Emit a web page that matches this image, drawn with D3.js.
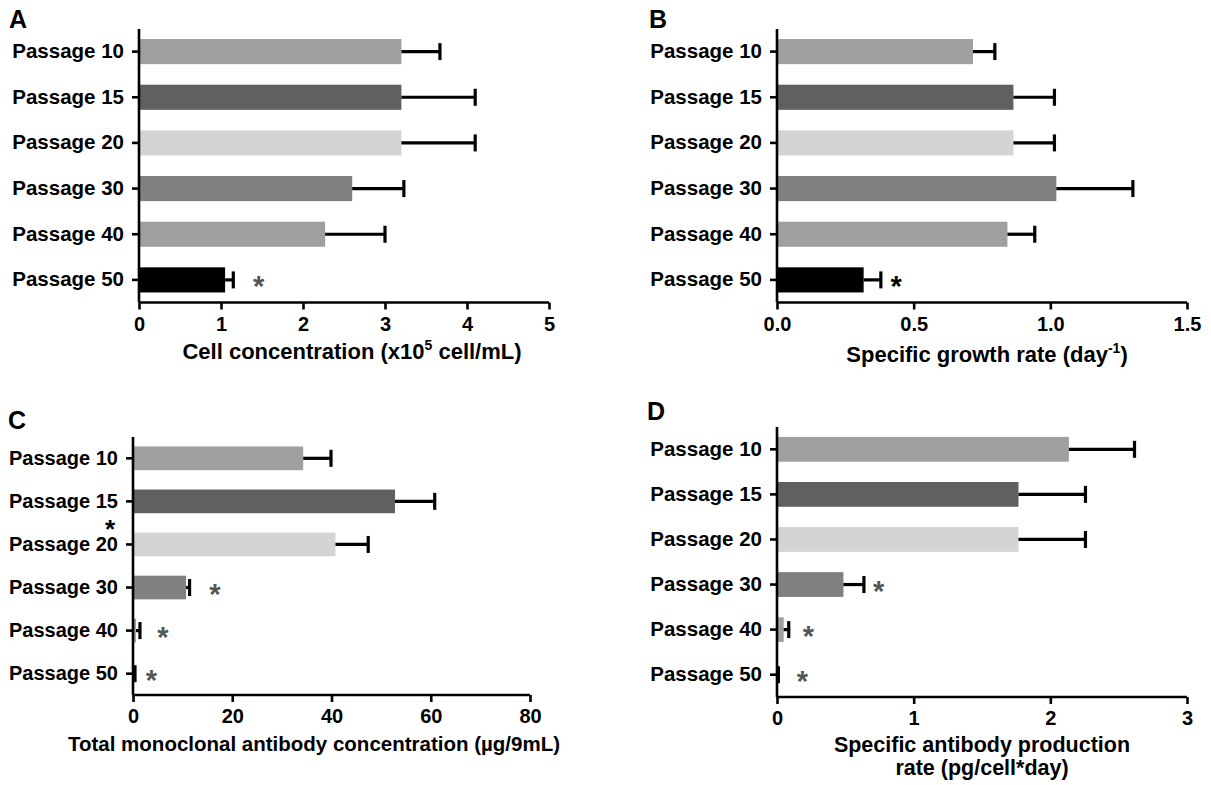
<!DOCTYPE html>
<html>
<head>
<meta charset="utf-8">
<script src="https://cdn.jsdelivr.net/npm/d3@7"></script>
<style>
  body { margin: 0; background: #fff; }
  svg text { font-family: "Liberation Sans", Arial, sans-serif; font-weight: bold; }
</style>
</head>
<body>
<div id="chart"></div>
<script>
// categories (same for all four panels)
var passages = ["Passage 10", "Passage 15", "Passage 20", "Passage 30", "Passage 40", "Passage 50"];
var barColors = ["#a0a0a0", "#606060", "#d4d4d4", "#808080", "#a0a0a0", "#000000"];

// A - cell concentration (x10^5 cell/mL), mean and SD
var cellConc = [3.2, 3.2, 3.2, 2.6, 2.27, 1.05];
var cellConcSd = [0.47, 0.9, 0.9, 0.63, 0.73, 0.1];
var cellTicks = [0, 1, 2, 3, 4, 5];

// B - specific growth rate (day-1)
var growth = [0.717, 0.865, 0.865, 1.022, 0.843, 0.317];
var growthSd = [0.08, 0.15, 0.15, 0.28, 0.1, 0.063];
var growthTicks = [0, 0.5, 1.0, 1.5];

// C - total mAb concentration (ug/9mL)
var mab = [34.3, 52.8, 40.8, 10.7, 0.6, 0.2];
var mabSd = [5.6, 8.0, 6.6, 0.7, 0.8, 0.2];
var mabTicks = [0, 20, 40, 60, 80];

// D - specific antibody production rate (pg/cell*day)
var qp = [2.136, 1.767, 1.767, 0.486, 0.049, 0.005];
var qpSd = [0.48, 0.49, 0.49, 0.15, 0.037, 0.005];
var qpTicks = [0, 1, 2, 3];

// significance marks: [category, x value]
var starsA = [["Passage 50", 1.46]];
var starsB = [["Passage 50", 0.436]];
var starsC = [["Passage 30", 16.5], ["Passage 40", 6.0], ["Passage 50", 3.7]];
var starsD = [["Passage 30", 0.744], ["Passage 40", 0.229], ["Passage 50", 0.186]];

var svg = d3.select("#chart")
    .append("svg")
    .attr("width", 1211)
    .attr("height", 785);

function drawPanel(p) {
    var g = svg.append("g");

    var x = d3.scaleLinear()
        .domain([0, p.ticks[p.ticks.length - 1]])
        .range([p.left, p.right]);

    var y = d3.scaleBand()
        .domain(passages)
        .range([p.top, p.bottom])
        .paddingInner(0.45)
        .paddingOuter(0.22);

    // bars
    g.append("g")
        .selectAll("rect")
        .data(p.values)
        .enter()
        .append("rect")
        .attr("x", x(0))
        .attr("y", (d, i) => y(passages[i]))
        .attr("width", d => x(d) - x(0))
        .attr("height", y.bandwidth())
        .style("fill", (d, i) => barColors[i]);

    // error bars
    var err = g.append("g")
        .selectAll("g")
        .data(p.values)
        .enter()
        .append("g");
    err.append("line")
        .attr("x1", d => x(d))
        .attr("x2", (d, i) => x(d + p.sd[i]))
        .attr("y1", (d, i) => y(passages[i]) + y.bandwidth() / 2)
        .attr("y2", (d, i) => y(passages[i]) + y.bandwidth() / 2)
        .style("stroke", "#000")
        .style("stroke-width", 3.2);
    err.append("line")
        .attr("x1", (d, i) => x(d + p.sd[i]))
        .attr("x2", (d, i) => x(d + p.sd[i]))
        .attr("y1", (d, i) => y(passages[i]) + y.bandwidth() / 2 - 8.5)
        .attr("y2", (d, i) => y(passages[i]) + y.bandwidth() / 2 + 8.5)
        .style("stroke", "#000")
        .style("stroke-width", 3.2);

    // axes
    var xAxis = g.append("g")
        .attr("transform", "translate(0," + p.bottom + ")")
        .call(d3.axisBottom(x).tickValues(p.ticks).tickFormat(d3.format(p.fmt))
            .tickSizeOuter(0).tickSize(7).tickPadding(7));
    var yAxis = g.append("g")
        .attr("transform", "translate(" + p.left + ",0)")
        .call(d3.axisLeft(y).tickSizeOuter(0).tickSize(7).tickPadding(8));

    // stretch the axis lines to the panel edges
    yAxis.select(".domain").attr("d", "M0," + (p.top) + "V" + p.bottom);
    xAxis.select(".domain").attr("d", "M" + p.left + ",0H" + p.right);

    [xAxis, yAxis].forEach(a => {
        a.select(".domain").style("stroke", "#000").style("stroke-width", 2.6);
        a.selectAll(".tick line").style("stroke", "#000").style("stroke-width", 2.6);
        a.selectAll("text").style("fill", "#000");
    });
    xAxis.selectAll("text").style("font-size", "20px");
    yAxis.selectAll("text").style("font-size", p.catSize);

    // stars
    g.append("g")
        .selectAll("text")
        .data(p.stars)
        .enter()
        .append("text")
        .attr("x", d => x(d[1]))
        .attr("y", d => y(d[0]) + y.bandwidth() / 2 + 16)
        .attr("text-anchor", "middle")
        .style("font-size", "29px")
        .style("fill", p.starColor)
        .text("*");

    // panel letter
    g.append("text")
        .attr("x", p.letterX)
        .attr("y", p.letterY)
        .style("font-size", "25px")
        .text(p.letter);

    // axis title
    var title = g.append("text")
        .attr("x", p.titleX)
        .attr("y", p.titleY)
        .attr("text-anchor", "middle")
        .style("font-size", p.titleSize);
    p.title(title);

    return { g: g, x: x, y: y };
}

drawPanel({
    letter: "A", letterX: 9, letterY: 28,
    left: 139, right: 549, top: 29, bottom: 302.5,
    values: cellConc, sd: cellConcSd, ticks: cellTicks, fmt: "d",
    stars: starsA, starColor: "#555", catSize: "20.5px",
    titleX: 352, titleY: 359, titleSize: "22px",
    title: t => {
        t.append("tspan").text("Cell concentration (x10");
        t.append("tspan").attr("dy", -9).style("font-size", "14px").text("5");
        t.append("tspan").attr("dy", 9).text(" cell/mL)");
    }
});

drawPanel({
    letter: "B", letterX: 649, letterY: 28,
    left: 777, right: 1187, top: 29, bottom: 302.5,
    values: growth, sd: growthSd, ticks: growthTicks, fmt: ".1f",
    stars: starsB, starColor: "#000", catSize: "20.5px",
    titleX: 987, titleY: 362, titleSize: "22px",
    title: t => {
        t.append("tspan").text("Specific growth rate (day");
        t.append("tspan").attr("dy", -9).style("font-size", "14px").text("-1");
        t.append("tspan").attr("dy", 9).text(")");
    }
});

var panelC = drawPanel({
    letter: "C", letterX: 8, letterY: 429,
    left: 133, right: 530, top: 437, bottom: 695,
    values: mab, sd: mabSd, ticks: mabTicks, fmt: "d",
    stars: starsC, starColor: "#555", catSize: "20px",
    titleX: 314, titleY: 751, titleSize: "20.5px",
    title: t => t.text("Total monoclonal antibody concentration (\u00b5g/9mL)")
});

// stray star next to the Passage 20 label in panel C
panelC.g.append("text")
    .attr("x", panelC.x(0) - 23)
    .attr("y", panelC.y("Passage 20") + panelC.y.bandwidth() / 2 - 6)
    .attr("text-anchor", "middle")
    .style("font-size", "26px")
    .style("fill", "#000")
    .text("*");

drawPanel({
    letter: "D", letterX: 647, letterY: 420,
    left: 777, right: 1187, top: 427, bottom: 697,
    values: qp, sd: qpSd, ticks: qpTicks, fmt: "d",
    stars: starsD, starColor: "#555", catSize: "20.5px",
    titleX: 982, titleY: 752, titleSize: "21.5px",
    title: t => {
        t.append("tspan").attr("x", 982).text("Specific antibody production");
        t.append("tspan").attr("x", 982).attr("dy", 23).text("rate (pg/cell*day)");
    }
});
</script>
</body>
</html>
